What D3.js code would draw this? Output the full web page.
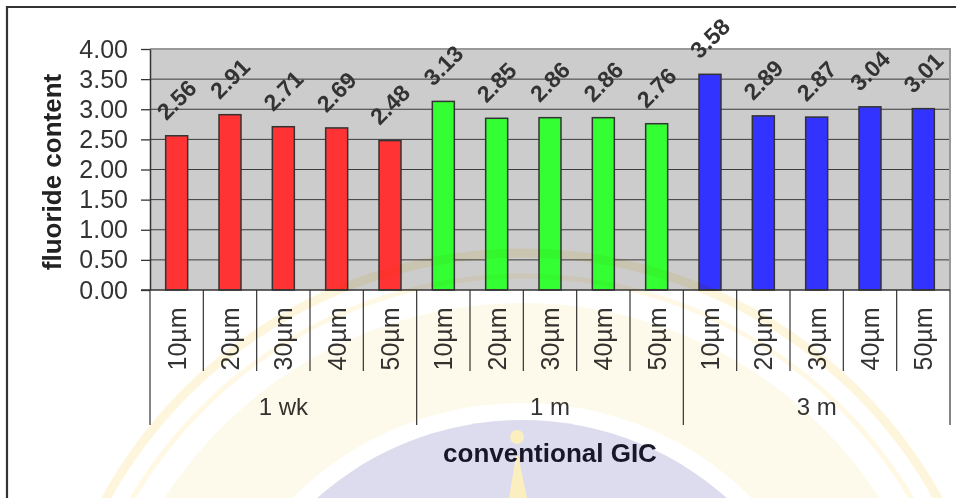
<!DOCTYPE html>
<html>
<head>
<meta charset="utf-8">
<script src="https://cdn.jsdelivr.net/npm/d3@7/dist/d3.min.js"></script>
<style>
  html, body { margin: 0; padding: 0; background: #fff; }
  svg { display: block; font-family: "Liberation Sans", Arial, sans-serif; }
</style>
</head>
<body>
<svg id="chart" width="956" height="498"></svg>
<script>
// Fluoride content by storage time and depth (conventional GIC)
const groups = ["1 wk", "1 m", "3 m"];
const depths = ["10µm", "20µm", "30µm", "40µm", "50µm"];
const values1wk = [2.56, 2.91, 2.71, 2.69, 2.48];
const values1m  = [3.13, 2.85, 2.86, 2.86, 2.76];
const values3m  = [3.58, 2.89, 2.87, 3.04, 3.01];
const groupColors = ["#ff3333", "#33ff33", "#3333ff"];
const yTicks = [0, 0.5, 1, 1.5, 2, 2.5, 3, 3.5, 4];
const yTitle = "fluoride content";
const xTitle = "conventional GIC";

const seriesByGroup = [values1wk, values1m, values3m];
const rows = [];
groups.forEach((g, gi) => {
  depths.forEach((d, di) => {
    rows.push({ key: g + "|" + d, group: g, gi, depth: d, value: seriesByGroup[gi][di] });
  });
});

const svg = d3.select("#chart");
const plot = { left: 150, right: 950, top: 49, bottom: 290 };

const x = d3.scaleBand()
  .domain(rows.map(r => r.key))
  .range([plot.left, plot.right])
  .paddingInner(0).paddingOuter(0);
const y = d3.scaleLinear().domain([0, 4]).range([plot.bottom, plot.top]);

// outer frame
svg.append("line").attr("x1", 7).attr("x2", 7).attr("y1", 6).attr("y2", 498)
  .attr("stroke", "#333").attr("stroke-width", 2.2);
svg.append("line").attr("x1", 6).attr("x2", 956).attr("y1", 7).attr("y2", 7)
  .attr("stroke", "#333").attr("stroke-width", 2.2);

// plot background
svg.append("rect")
  .attr("x", plot.left).attr("y", plot.top)
  .attr("width", plot.right - plot.left).attr("height", plot.bottom - plot.top)
  .attr("fill", "#cccccc");

// horizontal gridlines
svg.append("g").selectAll("line")
  .data(yTicks.filter(t => t > 0 && t < 4))
  .join("line")
  .attr("x1", plot.left).attr("x2", plot.right)
  .attr("y1", d => y(d)).attr("y2", d => y(d))
  .attr("stroke", "#3a3a3a").attr("stroke-width", 1);

// plot border (top and right)
svg.append("path")
  .attr("d", `M${plot.left},${y(4)}H${plot.right}V${plot.bottom}`)
  .attr("fill", "none").attr("stroke", "#999").attr("stroke-width", 2);

// bars
const barW = 22;
svg.append("g").selectAll("rect")
  .data(rows)
  .join("rect")
  .attr("x", d => x(d.key) + x.bandwidth() / 2 - barW / 2)
  .attr("y", d => y(d.value))
  .attr("width", barW)
  .attr("height", d => y(0) - y(d.value))
  .attr("fill", d => groupColors[d.gi])
  .attr("stroke", "#333").attr("stroke-width", 1.5);

// value labels
svg.append("g").selectAll("text")
  .data(rows)
  .join("text")
  .attr("transform", d => `translate(${x(d.key) + x.bandwidth() / 2},${y(d.value) - 36}) rotate(-45)`)
  .attr("text-anchor", "middle")
  .attr("dominant-baseline", "central")
  .attr("font-size", 23).attr("font-weight", "bold")
  .attr("fill", "#333")
  .text(d => d3.format(".2f")(d.value));

// value axis
const yAxis = d3.axisLeft(y)
  .tickValues(yTicks)
  .tickFormat(d3.format(".2f"))
  .tickSize(9).tickSizeOuter(0).tickPadding(13);
const yg = svg.append("g").attr("transform", `translate(${plot.left},0)`).call(yAxis);
yg.select(".domain").attr("stroke", "#333").attr("stroke-width", 1.5);
yg.selectAll(".tick line").attr("stroke", "#333").attr("stroke-width", 1.3);
yg.selectAll(".tick text")
  .attr("font-size", 25).attr("fill", "#333")
  .attr("font-family", "Liberation Sans, Arial, sans-serif");

// baseline
svg.append("line")
  .attr("x1", plot.left - 9).attr("x2", plot.right)
  .attr("y1", y(0)).attr("y2", y(0))
  .attr("stroke", "#333").attr("stroke-width", 1.5);

// category separators (short between depths, long between groups)
const bounds = rows.map(r => x(r.key)).concat([plot.right]);
svg.append("g").selectAll("line")
  .data(bounds)
  .join("line")
  .attr("x1", d => d).attr("x2", d => d)
  .attr("y1", y(0))
  .attr("y2", (d, i) => (i % depths.length === 0 ? 425 : 371))
  .attr("stroke", "#333").attr("stroke-width", 1.2);

// depth labels
svg.append("g").selectAll("text")
  .data(rows)
  .join("text")
  .attr("transform", d => `translate(${x(d.key) + x.bandwidth() / 2 + 9},339) rotate(-90)`)
  .attr("text-anchor", "middle")
  .attr("font-size", 25).attr("fill", "#333")
  .text(d => d.depth);

// group labels
svg.append("g").selectAll("text")
  .data(groups)
  .join("text")
  .attr("x", g => {
    const ks = rows.filter(r => r.group === g);
    return (x(ks[0].key) + x(ks[ks.length - 1].key) + x.bandwidth()) / 2;
  })
  .attr("y", 415)
  .attr("text-anchor", "middle")
  .attr("font-size", 24).attr("fill", "#333")
  .text(g => g);

// axis titles
svg.append("text")
  .attr("transform", "translate(61,172) rotate(-90)")
  .attr("text-anchor", "middle")
  .attr("font-size", 26).attr("font-weight", "bold").attr("fill", "#222")
  .text(yTitle);
svg.append("text")
  .attr("x", (plot.left + plot.right) / 2).attr("y", 462)
  .attr("text-anchor", "middle")
  .attr("font-size", 26).attr("font-weight", "bold").attr("fill", "#1a1a2a")
  .text(xTitle);

// faint emblem in the page background
const wm = svg.append("g").style("mix-blend-mode", "multiply").attr("pointer-events", "none");
const cx = 522, cy = 728;
wm.append("circle").attr("cx", cx).attr("cy", cy).attr("r", 475)
  .attr("fill", "none").attr("stroke", "#fbe9a8").attr("stroke-opacity", 0.4).attr("stroke-width", 9);
wm.append("circle").attr("cx", cx).attr("cy", cy).attr("r", 452)
  .attr("fill", "none").attr("stroke", "#fbe9a8").attr("stroke-opacity", 0.3).attr("stroke-width", 5);
wm.append("circle").attr("cx", cx).attr("cy", cy).attr("r", 375)
  .attr("fill", "none").attr("stroke", "#fdf1c6").attr("stroke-opacity", 0.35).attr("stroke-width", 100);
wm.append("circle").attr("cx", cx).attr("cy", cy).attr("r", 308)
  .attr("fill", "#dcdcee");
wm.append("circle").attr("cx", 517).attr("cy", 437).attr("r", 7).attr("fill", "#fbeebf");
wm.append("path").attr("d", "M517,450 L509,498 L527,498 Z").attr("fill", "#fbeebf");
</script>
</body>
</html>
